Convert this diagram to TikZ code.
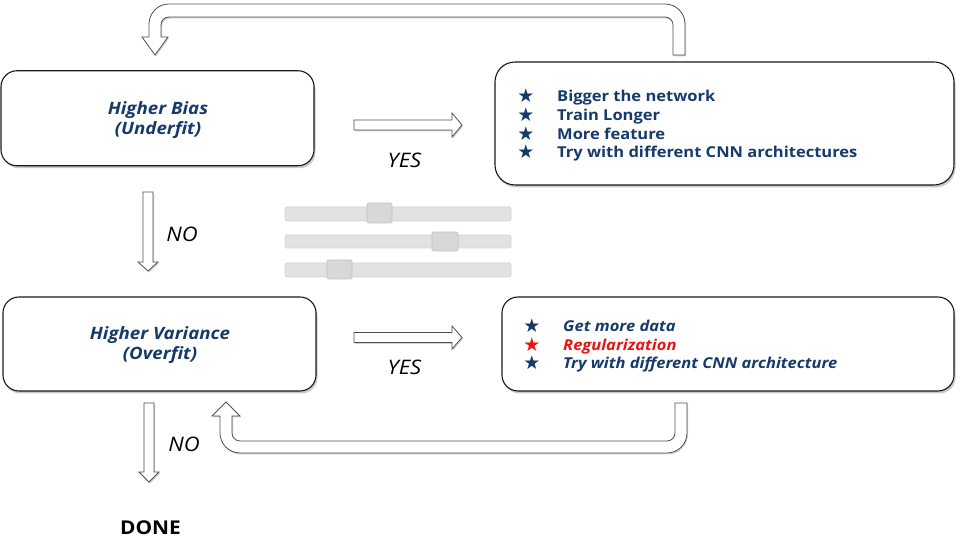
\documentclass[tikz,border=0pt]{standalone}
\usepackage{fontspec}
\setmainfont[FakeStretch=1.1]{Open Sans}
\newfontfamily\symfont{DejaVu Sans}
\usetikzlibrary{shadows}
\definecolor{tblue}{RGB}{22,58,106}
\definecolor{tred}{RGB}{235,20,20}
\definecolor{edge}{RGB}{25,25,25}
\definecolor{arr}{RGB}{80,80,80}
\definecolor{trackfill}{RGB}{226,226,226}
\definecolor{trackedge}{RGB}{212,212,212}
\definecolor{thumbfill}{RGB}{216,216,216}
\definecolor{thumbedge}{RGB}{196,196,196}
\begin{document}
\begin{tikzpicture}[x=1pt,y=1pt,
  box/.style={draw=edge, line width=1.1pt, rounded corners=16pt, fill=white, inner sep=0pt,
    drop shadow={shadow xshift=1.5pt, shadow yshift=-2.5pt, opacity=0.35, fill=black!60}},
  blockarrow/.style={draw=arr, line width=0.8pt, fill=white, line join=miter,
    drop shadow={shadow xshift=1pt, shadow yshift=-1.5pt, opacity=0.3, fill=black!60}},
  head/.style={font=\bfseries\itshape\fontsize{17}{20}\selectfont, text=tblue, anchor=base, inner sep=0pt},
  item/.style={font=\bfseries\fontsize{15}{18}\selectfont, text=tblue, anchor=base west, inner sep=0pt},
  itemi/.style={font=\bfseries\itshape\fontsize{15}{18}\selectfont, text=tblue, anchor=base west, inner sep=0pt},
  staritem/.style={font=\symfont\fontsize{19}{19}\selectfont, text=tblue, anchor=base, inner sep=0pt},
  answer/.style={font=\itshape\fontsize{20}{22}\selectfont, text=black, anchor=base, inner sep=0pt},
  track/.style={fill=trackfill, draw=trackedge, line width=0.8pt, rounded corners=1.5pt},
  thumb/.style={fill=thumbfill, draw=thumbedge, line width=0.8pt, rounded corners=1.5pt}
]
\useasboundingbox (0,0) rectangle (960,540);

% boxes
\node[box, minimum width=313pt, minimum height=95pt] (bias) at (157.5,421.75) {};
\node[box, minimum width=459pt, minimum height=123pt, rounded corners=20pt] (biasfix) at (724.5,416.5) {};
\node[box, minimum width=313pt, minimum height=94pt] (var) at (159.5,196) {};
\node[box, minimum width=452pt, minimum height=94pt] (varfix) at (728,196) {};

% box titles
\node[head] (biasA) at (158,425) {Higher Bias};
\node[head] (biasB) at (158,405) {(Underfit)};
\node[head] (varA) at (160,200) {Higher Variance};
\node[head] (varB) at (160,180) {(Overfit)};

% bias remedies
\node[staritem] (s1) at (526,437) {★};
\node[staritem] (s2) at (526,418) {★};
\node[staritem] (s3) at (526,399.5) {★};
\node[staritem] (s4) at (526,381) {★};
\node[item] (r1) at (557,438) {Bigger the network};
\node[item] (r2) at (557,419) {Train Longer};
\node[item] (r3) at (557,400.5) {More feature};
\node[item] (r4) at (557,382) {Try with different CNN architectures};

% variance remedies
\node[staritem] (v1s) at (532,207) {★};
\node[staritem, text=tred] (v2s) at (532,188.5) {★};
\node[staritem] (v3s) at (532,170) {★};
\node[itemi] (v1) at (563,208) {Get more data};
\node[itemi, text=tred] (v2) at (563,189.5) {Regularization};
\node[itemi] (v3) at (563,171) {Try with different CNN architecture};

% answers
\node[answer] (yes1) at (404.5,372) {YES};
\node[answer] (yes2) at (404.5,165) {YES};
\node[answer] (no1) at (182,298) {NO};
\node[answer] (no2) at (184,88) {NO};
\node[font=\bfseries\fontsize{19}{22}\selectfont, text=black, anchor=base, inner sep=0pt] (done) at (150.5,5) {DONE};

% straight block arrows
\draw[blockarrow] (354,410) -- (452,410) -- (452,403) -- (462,415) -- (452,427) -- (452,420) -- (354,420) -- cycle;
\draw[blockarrow] (354,197.5) -- (452,197.5) -- (452,191) -- (462,202.5) -- (452,214) -- (452,207.5) -- (354,207.5) -- cycle;
\draw[blockarrow] (143,348) -- (143,278) -- (138,278) -- (148,269) -- (158,278) -- (153,278) -- (153,348) -- cycle;
\draw[blockarrow] (144,137) -- (144,68) -- (139,68) -- (149,58) -- (159,68) -- (154,68) -- (154,137) -- cycle;

% top U-turn arrow (bias remedies -> bias)
\draw[blockarrow] (685,485) -- (685,516) arc[start angle=0, end angle=90, radius=20]
  -- (169,536) arc[start angle=90, end angle=180, radius=20]
  -- (149,503) -- (142,503) -- (155,485) -- (168,503) -- (161,503)
  -- (161,515) arc[start angle=180, end angle=90, radius=8]
  -- (665,523) arc[start angle=90, end angle=0, radius=8]
  -- (673,485) -- cycle;

% bottom U-turn arrow (variance remedies -> variance)
\draw[blockarrow] (675,137) -- (687,137) -- (687,107) arc[start angle=0, end angle=-90, radius=20]
  -- (240,87) arc[start angle=270, end angle=180, radius=20]
  -- (220,124) -- (212,124) -- (226,138) -- (240,124) -- (232,124)
  -- (232,107) arc[start angle=180, end angle=270, radius=8]
  -- (667,99) arc[start angle=-90, end angle=0, radius=8]
  -- cycle;

% sliders
\draw[track] (285,319) rectangle (511,333);
\draw[track] (285,292) rectangle (511,305);
\draw[track] (285,263) rectangle (511,277);
\draw[thumb] (367,317) rectangle (392,337);
\draw[thumb] (432,289) rectangle (458,308);
\draw[thumb] (327,261) rectangle (352,280);
\end{tikzpicture}
\end{document}
